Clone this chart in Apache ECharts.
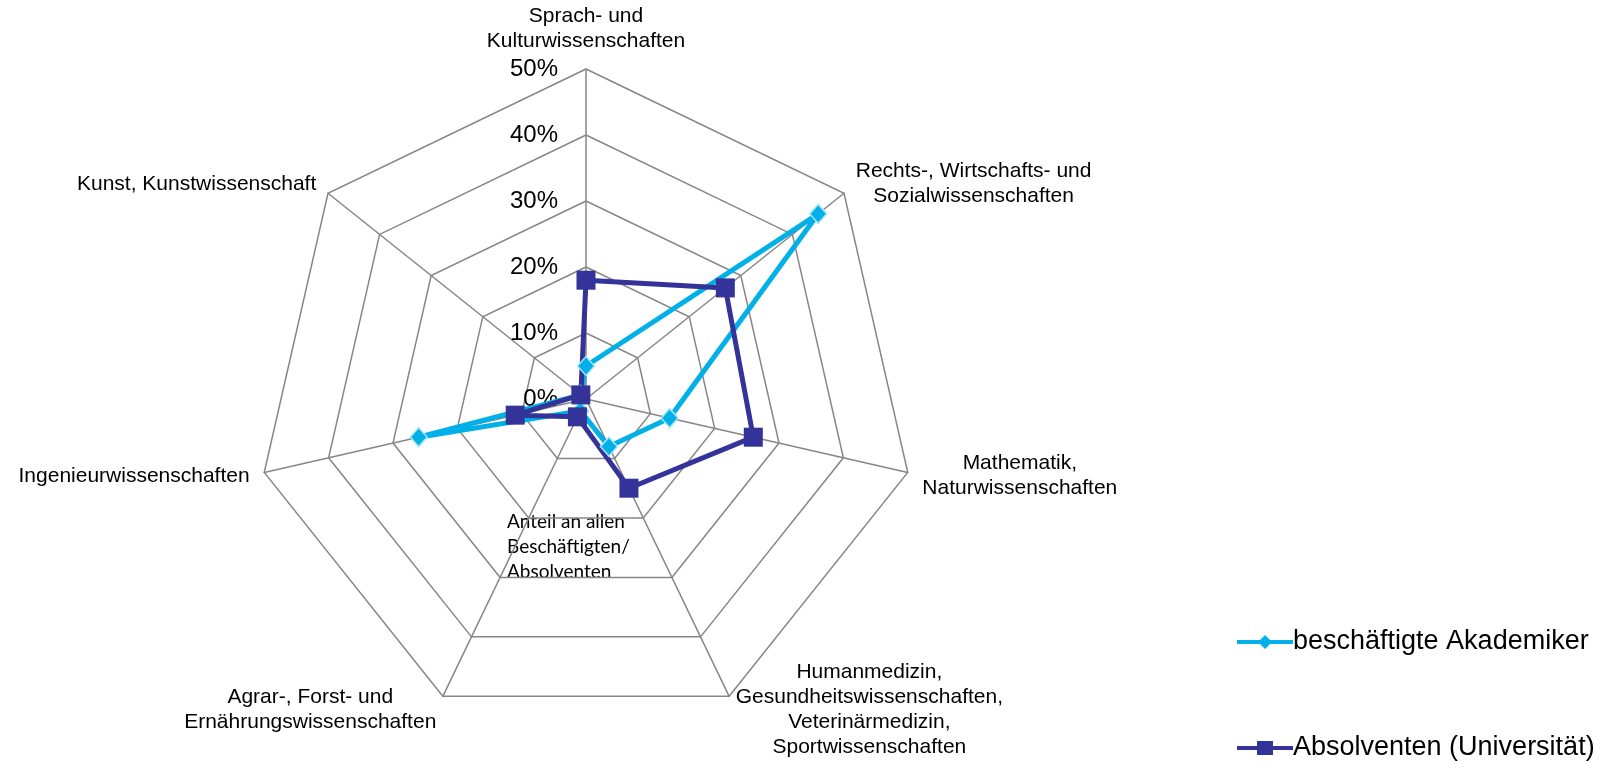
<!DOCTYPE html>
<html><head><meta charset="utf-8">
<script src="https://cdn.jsdelivr.net/npm/echarts@6/dist/echarts.min.js"></script>
<style>html,body{margin:0;padding:0;background:#fff}#c{width:1609px;height:764px}</style>
</head><body><div id="c"></div>
<script>
// Categories listed clockwise starting at the top
const categories = [
  'Sprach- und\nKulturwissenschaften',
  'Rechts-, Wirtschafts- und\nSozialwissenschaften',
  'Mathematik,\nNaturwissenschaften',
  'Humanmedizin,\nGesundheitswissenschaften,\nVeterinärmedizin,\nSportwissenschaften',
  'Agrar-, Forst- und\nErnährungswissenschaften',
  'Ingenieurwissenschaften',
  'Kunst, Kunstwissenschaft'
];
const seriesNames = ['beschäftigte Akademiker', 'Absolventen (Universität)'];
const akademiker = [5, 45, 13, 8, 2, 26, 1];
const absolventen = [18, 27, 26, 15, 3, 11, 1];
const axisMin = 0;
const axisMax = 50;
const splitCount = 5;
const centerLabel = 'Anteil an allen\nBeschäftigten/\nAbsolventen';

const FONT = '"Liberation Sans", Arial, sans-serif';
const LIGHT = '#00B0E6';
const DARK = '#333399';

// ECharts radar runs counter-clockwise: reorder so the chart reads clockwise
const order = categories.map(function (_, i) { return i === 0 ? 0 : categories.length - i; });
const pick = function (arr) { return order.map(function (k) { return arr[k]; }); };

const chart = echarts.init(document.getElementById('c'), null, {renderer: 'canvas'});
const legendBase = {
  orient: 'vertical',
  left: 1237,
  padding: 0,
  itemWidth: 56,
  itemHeight: 14,
  textStyle: { color: '#000', fontFamily: FONT, fontSize: 27, lineHeight: 28, padding: [0, 0, 0, -5] },
  itemStyle: { borderWidth: 0 }
};
chart.setOption({
  animation: false,
  backgroundColor: '#fff',
  radar: {
    center: [586, 399],
    radius: 330,
    startAngle: 90,
    shape: 'polygon',
    splitNumber: splitCount,
    nameGap: 15,
    axisName: {
      color: '#000',
      fontFamily: FONT,
      fontSize: 21,
      lineHeight: 25,
      formatter: function (v) { return '{c|' + v + '}'; },
      rich: { c: { align: 'center', fontFamily: FONT, fontSize: 21, lineHeight: 25, color: '#000' } }
    },
    axisLine: { show: true, lineStyle: { color: '#868686', width: 1.5 } },
    splitLine: { show: true, lineStyle: { color: '#868686', width: 1.5 } },
    splitArea: { show: false },
    axisTick: { show: false },
    axisLabel: {
      show: true,
      color: '#000',
      fontFamily: FONT,
      fontSize: 24,
      margin: 28,
      formatter: '{value}%'
    },
    indicator: pick(categories).map(function (c, i) {
      const ind = { name: c, min: axisMin, max: axisMax };
      if (i > 0) ind.axisLabel = { show: false };
      return ind;
    })
  },
  legend: [
    Object.assign({}, legendBase, {
      top: 628,
      data: [{ name: seriesNames[0], icon: 'path://M0,5 L23,5 L28,0 L33,5 L56,5 L56,9 L33,9 L28,14 L23,9 L0,9 Z' }]
    }),
    Object.assign({}, legendBase, {
      top: 734,
      data: [{ name: seriesNames[1], icon: 'path://M0,5 L20,5 L20,0 L36,0 L36,5 L56,5 L56,9 L36,9 L36,14 L20,14 L20,9 L0,9 Z' }]
    })
  ],
  graphic: [{
    type: 'text',
    left: 507,
    top: 509,
    style: { text: centerLabel, font: '19px Lato, "Open Sans", sans-serif', lineHeight: 25, fill: '#000' }
  }],
  series: [{
    type: 'radar',
    name: seriesNames[0],
    symbol: 'diamond',
    symbolSize: [17, 19],
    lineStyle: { color: LIGHT, width: 5 },
    itemStyle: { color: LIGHT, borderColor: '#A8E4F4', borderWidth: 1.5 },
    data: [{ name: seriesNames[0], value: pick(akademiker) }]
  }, {
    type: 'radar',
    name: seriesNames[1],
    symbol: 'rect',
    symbolSize: 19,
    lineStyle: { color: DARK, width: 5 },
    itemStyle: { color: DARK, borderWidth: 0 },
    data: [{ name: seriesNames[1], value: pick(absolventen) }]
  }]
});
</script></body></html>
